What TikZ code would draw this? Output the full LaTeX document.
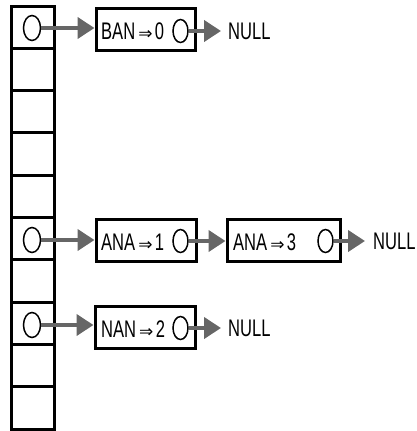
\documentclass[tikz,border=0pt]{standalone}
\usepackage{fontspec}
\usepackage{graphicx}
\setmainfont{Liberation Sans}
\newfontfamily\djv{DejaVu Sans}
\usetikzlibrary{arrows.meta,shapes.geometric}
\newcommand\cnd[1]{\scalebox{0.69}[1]{#1}}
\newcommand\imp{\hspace{3pt}{\djv\fontsize{17}{17}\selectfont ⇒}\hspace{2.5pt}}
\begin{document}
\begin{tikzpicture}[x=1pt,y=-1pt,
  cell/.style={draw,line width=3pt,minimum width=43pt,minimum height=42.3pt,inner sep=0pt},
  ptr/.style={draw,ellipse,line width=1.5pt,minimum width=17pt,minimum height=25pt,inner sep=0pt},
  inr/.style={draw,ellipse,line width=1.5pt,minimum width=15pt,minimum height=23pt,inner sep=0pt},
  recbox/.style={draw,line width=3pt,minimum height=42pt,inner sep=0pt},
  lbl/.style={anchor=base west,inner sep=0pt,font=\fontsize{24}{24}\selectfont},
  link/.style={draw=black!60,line width=4pt,-{Triangle[length=17pt,width=21pt]}}
]
\useasboundingbox (0,0) rectangle (416,431);
% array cells
\foreach \i in {0,...,9}{
  \node[cell] (c\i) at (32.5,{27.15+42.3*\i}) {};
}
% pointer circles
\node[ptr] (p0) at (32,28) {};
\node[ptr] (p5) at (32,240) {};
\node[ptr] (p7) at (32,325) {};
% record boxes
\node[recbox,minimum width=99pt] (b0) at (145.5,29) {};
\node[recbox,minimum width=100pt] (b5) at (146,240) {};
\node[recbox,minimum width=113pt] (b6) at (283.5,240) {};
\node[recbox,minimum width=100pt] (b7) at (145,327) {};
% labels
\node[lbl] (t0) at (101,39.5) {\cnd{BAN}\imp\cnd{0}};
\node[lbl] (t5) at (101,250) {\cnd{ANA}\imp\cnd{1}};
\node[lbl] (t6) at (233,250) {\cnd{ANA}\imp\cnd{3}};
\node[lbl] (t7) at (101,337) {\cnd{NAN}\imp\cnd{2}};
% inner circles
\node[inr] (q0) at (180.5,31) {};
\node[inr] (q5) at (180.5,241) {};
\node[inr] (q6) at (325.5,241) {};
\node[inr] (q7) at (180.5,328) {};
% NULL labels
\node[lbl] (n0) at (228,39.5) {\cnd{NULL}};
\node[lbl] (n6) at (373,249.5) {\cnd{NULL}};
\node[lbl] (n7) at (228,336.5) {\cnd{NULL}};
% connectors
\draw[link] (p0.east) -- (p0.east -| b0.west);
\draw[link] (p5.east) -- (p5.east -| b5.west);
\draw[link] (p7.east) -- (p7.east -| b7.west);
\draw[link] (q5.east) -- (q5.east -| b6.west);
\draw[link,shorten >=7pt] (q0.east) -- (q0.east -| n0.west);
\draw[link,shorten >=8pt] (q6.east) -- (q6.east -| n6.west);
\draw[link,shorten >=7pt] (q7.east) -- (q7.east -| n7.west);
\end{tikzpicture}
\end{document}
